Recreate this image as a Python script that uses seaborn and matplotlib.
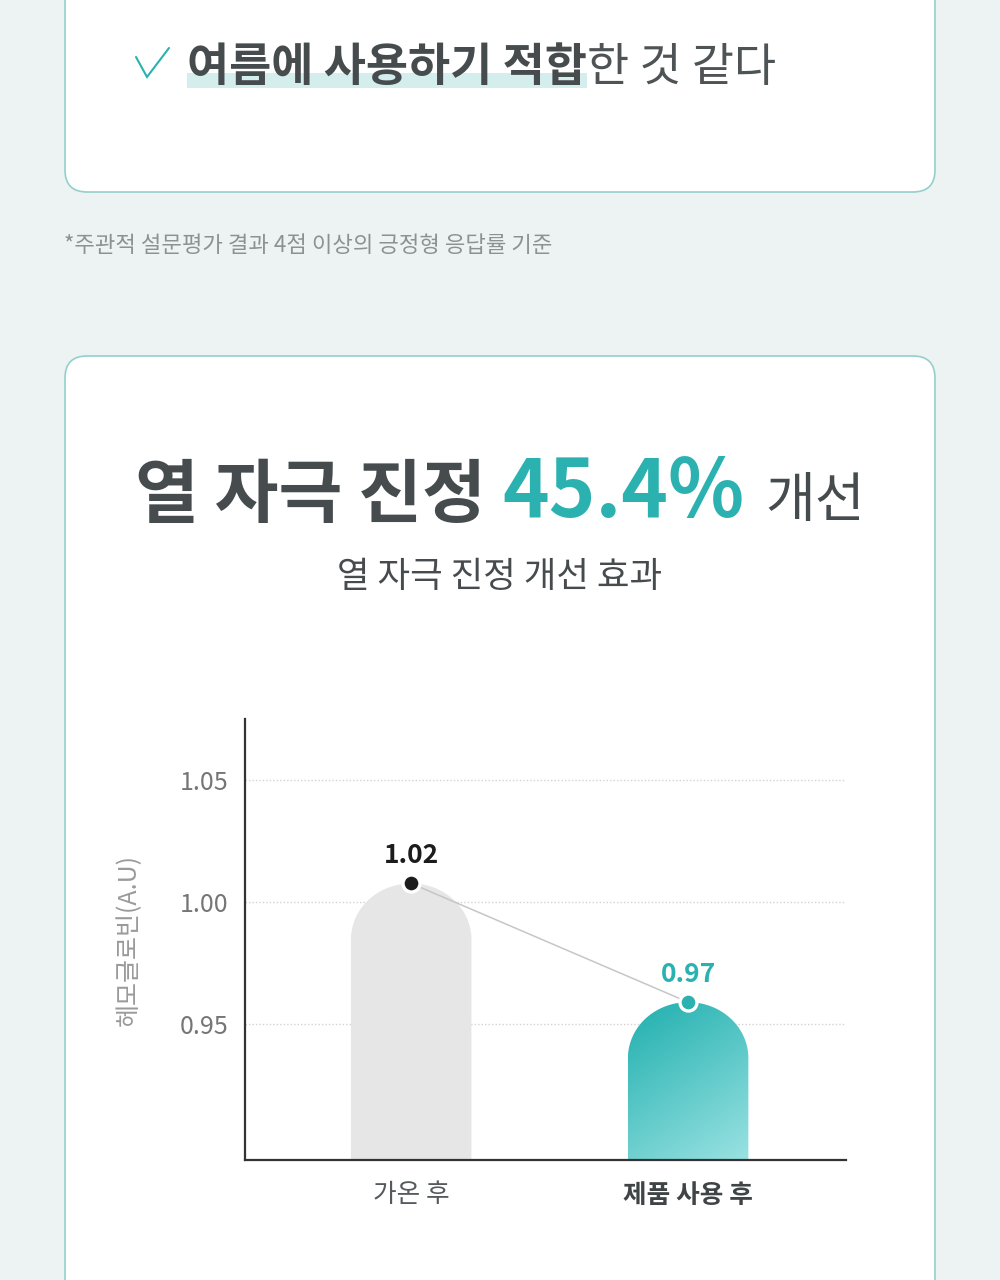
import numpy as np
import matplotlib
matplotlib.use("Agg")
import matplotlib.pyplot as plt
import seaborn as sns
import pandas as pd
from matplotlib.patches import FancyBboxPatch, Rectangle, Polygon
from matplotlib.colors import to_rgb

# ---------------- data ----------------
categories = ["가온 후", "제품 사용 후"]
value_labels = ["1.02", "0.97"]
marker_heights = [1.0077, 0.9591]          # where the markers sit on the y scale
y_ticks = [0.95, 1.00, 1.05]
y_tick_labels = ["0.95", "1.00", "1.05"]
y_label = "헤모글로빈(A.U)"
title_bold = "열 자극 진정"
title_number = "45.4%"
title_tail = "개선"
subtitle = "열 자극 진정 개선 효과"
top_bold = "여름에 사용하기 적합"
top_regular = "한 것 같다"
footnote = "*주관적 설문평가 결과 4점 이상의 긍정형 응답률 기준"

# ---------------- style ----------------
sns.set_theme(style="white")
plt.rcParams['font.family'] = ['Noto Sans CJK KR', 'DejaVu Sans']
plt.rcParams['axes.unicode_minus'] = False

TEAL = "#2bb2b0"
DARK = "#464b4e"
BG = "#edf3f2"
BORDER = "#93d0cc"

W, H = 1000, 1280
fig = plt.figure(figsize=(10, 12.8), dpi=100)
fig.patch.set_facecolor(BG)

bg = fig.add_axes([0, 0, 1, 1])
bg.set_xlim(0, W)
bg.set_ylim(H, 0)
bg.axis('off')
bg.set_zorder(0)

for (x, y, w, h) in [(65, -60, 870, 252), (65, 356, 870, 1000)]:
    bg.add_patch(FancyBboxPatch((x, y), w, h,
                                boxstyle="round,pad=0,rounding_size=22",
                                fc="white", ec=BORDER, lw=1.2, zorder=1))

fig.canvas.draw()
renderer = fig.canvas.get_renderer()


def place_row(pieces, y, x_left=None, x_center=None, va='baseline'):
    texts, widths = [], []
    for s, kw, gap in pieces:
        t = bg.text(0, y, s, ha='left', va=va, zorder=5, **kw)
        widths.append(t.get_window_extent(renderer).width)
        texts.append(t)
    total = sum(widths) + sum(p[2] for p in pieces[:-1])
    x = x_left if x_left is not None else x_center - total / 2
    spans = []
    for t, w, p in zip(texts, widths, pieces):
        t.set_x(x)
        spans.append((x, x + w))
        x += w + p[2]
    return spans

# ---- top card line ----
bg.plot([136, 147, 169], [57, 77, 48], color=TEAL, lw=1.5, solid_capstyle='round',
        solid_joinstyle='miter', zorder=5)
spans = place_row([(top_bold, dict(fontsize=33, fontweight='bold', color=DARK), 0),
                   (top_regular, dict(fontsize=33, color="#4e5356"), 0)],
                  y=81, x_left=187)
bg.add_patch(Rectangle((spans[0][0], 73), spans[0][1] - spans[0][0], 15,
                       fc="#d4eded", ec='none', zorder=4))

# ---- footnote ----
bg.text(64, 245, footnote, fontsize=16, color="#8c9192", ha='left', va='center', zorder=5)

# ---- title ----
place_row([(title_bold, dict(fontsize=50, fontweight='bold', color=DARK), 17),
           (title_number, dict(fontsize=57, fontweight='bold', color=TEAL), 21),
           (title_tail, dict(fontsize=39, color=DARK), 0)],
          y=517, x_center=500)
bg.text(500, 577, subtitle, fontsize=25.5, color=DARK, ha='center', va='center', zorder=5)

# ---------------- chart ----------------
ax_left, ax_right, ax_top, ax_bottom = 245, 846, 719, 1160
ax = fig.add_axes([ax_left / W, 1 - ax_bottom / H,
                   (ax_right - ax_left) / W, (ax_bottom - ax_top) / H])
ax.set_zorder(2)
ax.patch.set_alpha(0)

df = pd.DataFrame({"cat": categories, "h": marker_heights})
sns.barplot(data=df, x="cat", y="h", ax=ax, width=0.435, color="#e5e5e5",
            errorbar=None, zorder=2)
ylo, yhi = 0.8945, 1.075
ax.set_ylim(ylo, yhi)
ax.set_xlim(-0.6, 1.57)

px_per_y = (ax_bottom - ax_top) / (yhi - ylo)
ry = 56 / px_per_y

for i, p in enumerate(list(ax.patches)):
    x, w, h = p.get_x(), p.get_width(), p.get_height()
    p.set_visible(False)
    cx, rx = x + w / 2, w / 2
    th = np.linspace(np.pi, 0, 80)
    verts = [(x, ylo), (x, h - ry)]
    verts += list(zip(cx + rx * np.cos(th), h - ry + ry * np.sin(th)))
    verts += [(x + w, h - ry), (x + w, ylo)]
    if i == 0:
        poly = Polygon(verts, closed=True, fc="#e6e6e6", ec='none', zorder=2)
        ax.add_patch(poly)
    else:
        poly = Polygon(verts, closed=True, fc='none', ec='none', zorder=2)
        ax.add_patch(poly)
        c0 = np.array(to_rgb("#2db5b4"))
        c1 = np.array(to_rgb("#9ae2e2"))
        ny, nx = 200, 100
        yy, xx = np.mgrid[0:1:ny * 1j, 0:1:nx * 1j]
        t = np.clip(0.75 * yy + 0.38 * xx - 0.13, 0, 1)[..., None]
        img = c0 * (1 - t) + c1 * t
        im = ax.imshow(img, extent=(x, x + w, ylo, h), origin='upper',
                       aspect='auto', zorder=2, interpolation='bilinear')
        im.set_clip_path(poly)

ax.set_xlim(-0.6, 1.57)
ax.set_ylim(ylo, yhi)

# connecting line and markers
ax.plot([0, 1], marker_heights, color="#c6c6c6", lw=1.1, zorder=3)
ax.scatter([0], [marker_heights[0]], s=150, c="#1c1c1c", edgecolors='white',
           linewidths=2.4, zorder=4)
ax.scatter([1], [marker_heights[1]], s=150, c=TEAL, edgecolors='white',
           linewidths=2.4, zorder=4)
label_colors = ["#1c1c1c", TEAL]
for i, (lab, hgt) in enumerate(zip(value_labels, marker_heights)):
    ax.annotate(lab, (i, hgt), xytext=(0, 28), textcoords='offset pixels',
                ha='center', va='center', fontsize=19, fontweight='bold',
                color=label_colors[i], zorder=5)

# grid / axes styling
ax.set_yticks(y_ticks)
ax.set_yticklabels(y_tick_labels)
ax.grid(axis='y', ls=(0, (1, 1.5)), color="#d2d2d2", lw=1)
ax.grid(axis='x', visible=False)
ax.set_axisbelow(True)
sns.despine(ax=ax)
for s in ['left', 'bottom']:
    ax.spines[s].set_color("#333333")
    ax.spines[s].set_linewidth(1.6)
ax.tick_params(axis='y', length=0, pad=12, labelsize=18, labelcolor="#767676")
ax.tick_params(axis='x', length=0, pad=16, labelsize=18.5)
xl = ax.get_xticklabels()
xl[0].set_color("#555a5d")
xl[1].set_color("#3f4447")
xl[1].set_fontweight('bold')
ax.set_xlabel("")
ax.set_ylabel(y_label, fontsize=18, color="#9a9a9a")
ax.yaxis.set_label_coords(-0.172, 0.5)

fig.savefig("out.png", dpi=100, facecolor=fig.get_facecolor())
